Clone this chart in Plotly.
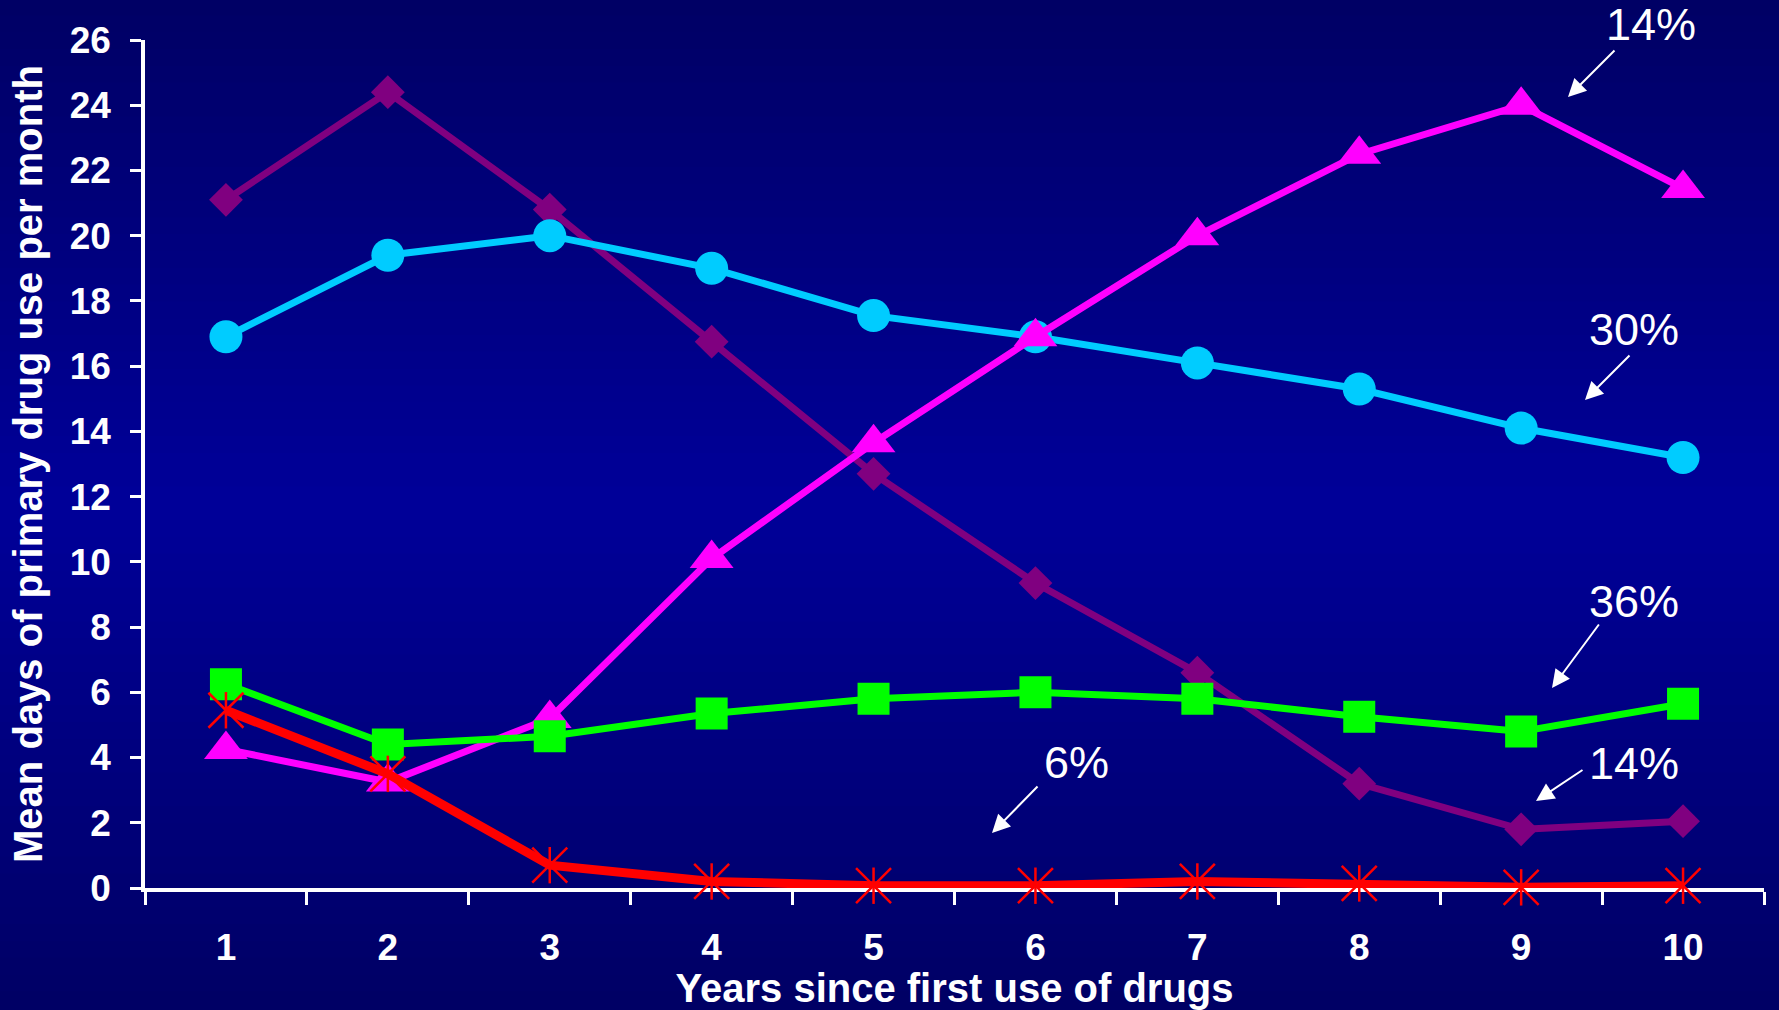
import plotly.graph_objects as go

years = ["1", "2", "3", "4", "5", "6", "7", "8", "9", "10"]
purple_vals = [21.1, 24.4, 20.8, 16.75, 12.7, 9.35, 6.6, 3.2, 1.8, 2.05]
cyan_vals = [16.9, 19.4, 20.0, 19.0, 17.55, 16.9, 16.1, 15.3, 14.1, 13.2]
magenta_vals = [4.25, 3.25, 5.2, 10.1, 13.65, 16.9, 20.0, 22.5, 24.0, 21.45]
green_vals = [6.25, 4.4, 4.65, 5.35, 5.8, 6.0, 5.8, 5.25, 4.8, 5.65]
red_vals = [5.45, 3.5, 0.7, 0.2, 0.07, 0.07, 0.2, 0.14, 0.02, 0.07]
y_ticks = [0, 2, 4, 6, 8, 10, 12, 14, 16, 18, 20, 22, 24, 26]

pct_labels = ["14%", "30%", "36%", "14%", "6%"]

W, H = 1779, 1010
L, R, T, B = 145, 15, 40, 122
FONT = "Arial, Liberation Sans, sans-serif"

def px2paper(px, py):
    return (px - L) / (W - L - R), (H - B - py) / (H - T - B)

fig = go.Figure()

fig.add_trace(go.Scatter(x=years, y=purple_vals, mode="lines+markers",
                         line=dict(color="#800080", width=7),
                         marker=dict(symbol="diamond", size=26, color="#800080"),
                         cliponaxis=False))
fig.add_trace(go.Scatter(x=years, y=cyan_vals, mode="lines+markers",
                         line=dict(color="#00CCFF", width=7),
                         marker=dict(symbol="circle", size=33, color="#00CCFF"),
                         cliponaxis=False))
fig.add_trace(go.Scatter(x=years, y=magenta_vals, mode="lines+markers",
                         line=dict(color="#FF00FF", width=7),
                         marker=dict(symbol="triangle-up", size=38, color="#FF00FF"),
                         cliponaxis=False))
fig.add_trace(go.Scatter(x=years, y=green_vals, mode="lines+markers",
                         line=dict(color="#00FF00", width=7),
                         marker=dict(symbol="square", size=32, color="#00FF00"),
                         cliponaxis=False))
fig.add_trace(go.Scatter(x=years, y=red_vals, mode="lines+markers",
                         line=dict(color="#FF0000", width=9),
                         marker=dict(symbol="x-thin-open", size=35, color="#FF0000",
                                     line=dict(color="#FF0000", width=2.5)),
                         cliponaxis=False))
fig.add_trace(go.Scatter(x=years, y=red_vals, mode="markers",
                         marker=dict(symbol="line-ns-open", size=26, color="#FF0000",
                                     line=dict(color="#FF0000", width=2.5)),
                         cliponaxis=False))

# background gradient bands
shapes = []
n = 60
top_c, mid_c = 100, 153
for i in range(n):
    f0 = i / n
    f1 = (i + 1) / n
    fm = (f0 + f1) / 2
    b = mid_c - (mid_c - top_c) * abs(fm - 0.5) / 0.5
    y0 = (H - B - f0 * H) / (H - T - B)
    y1 = (H - B - f1 * H) / (H - T - B)
    shapes.append(dict(type="rect", xref="paper", yref="paper",
                       x0=-L / (W - L - R) - 0.01, x1=1 + R / (W - L - R) + 0.01,
                       y0=y1, y1=y0 + 0.002, fillcolor=f"rgb(0,0,{int(round(b))})",
                       line=dict(width=0), layer="below"))

annotations = []
text_pos = [(1651, 25), (1634, 330), (1634, 601), (1634, 763), (1076, 762)]
for lab, (tx, ty) in zip(pct_labels, text_pos):
    xp, yp = px2paper(tx, ty)
    annotations.append(dict(x=xp, y=yp, xref="paper", yref="paper", text=lab,
                            showarrow=False, xanchor="center", yanchor="middle",
                            font=dict(family=FONT, size=45, color="white")))
arrows = [((1616, 49), (1568, 97)), ((1631, 354), (1585, 400)),
          ((1600, 623), (1552, 688)), ((1584, 769), (1536, 801)),
          ((1039, 785), (992, 833))]
for (t, h) in arrows:
    hx, hy = px2paper(*h)
    annotations.append(dict(x=hx, y=hy, xref="paper", yref="paper",
                            ax=t[0] - h[0], ay=t[1] - h[1],
                            text="", showarrow=True, arrowhead=2, arrowsize=1.8,
                            arrowwidth=2, arrowcolor="white"))

fig.update_layout(
    width=W, height=H,
    margin=dict(l=L, r=R, t=T, b=B),
    paper_bgcolor="#000080", plot_bgcolor="rgba(0,0,0,0)",
    showlegend=False,
    shapes=shapes,
    annotations=annotations,
    font=dict(family=FONT, color="white"),
    xaxis=dict(type="category", tickson="boundaries", ticks="outside",
               range=[-0.5, 9.5], automargin=False,
               ticklen=13, tickwidth=3, tickcolor="white",
               showline=True, linewidth=3.5, linecolor="white",
               showgrid=False, zeroline=False, layer="below traces",
               tickfont=dict(family=FONT, size=37, color="white", weight="bold"),
               ticklabelstandoff=24,
               title=dict(text="<b>Years since first use of drugs</b>",
                          font=dict(family=FONT, size=40, color="white"),
                          standoff=4)),
    yaxis=dict(range=[0, 26], tickvals=y_ticks, ticks="outside",
               automargin=False,
               ticklen=11, tickwidth=3, tickcolor="white",
               showline=True, linewidth=3.5, linecolor="white",
               showgrid=False, zeroline=False, layer="below traces",
               tickfont=dict(family=FONT, size=37, color="white", weight="bold"),
               ticklabelstandoff=12,
               title=dict(text="<b>Mean days of primary drug use per month</b>",
                          font=dict(family=FONT, size=40, color="white"),
                          standoff=16)),
)

fig.write_html("out.html",
               config={"displayModeBar": False},
               post_script="document.body.style.margin='0px';"
                           "document.body.style.background='#000066';")
